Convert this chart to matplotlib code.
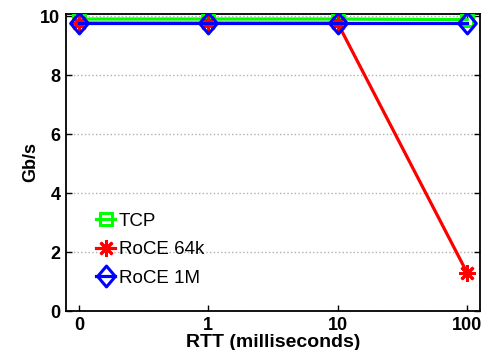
import matplotlib
matplotlib.use("Agg")
import matplotlib.pyplot as plt
from matplotlib.path import Path

rtt_labels = ["0", "1", "10", "100"]
tcp = [9.9, 9.9, 9.9, 9.88]
roce_64k = [9.76, 9.76, 9.76, 1.3]
roce_1m = [9.75, 9.75, 9.75, 9.75]
y_ticks = [0, 2, 4, 6, 8, 10]

plt.rcParams['font.family'] = ['Liberation Sans', 'DejaVu Sans']

fig = plt.figure(figsize=(4.89, 3.5), dpi=100)
ax = fig.add_axes([66/489, 1-311/350, (480-66)/489, (311-14)/350])

diamond = Path([(0, 1), (0.85, 0), (0, -1), (-0.85, 0), (0, 1)],
               [Path.MOVETO, Path.LINETO, Path.LINETO, Path.LINETO, Path.CLOSEPOLY])

x = list(range(1, len(rtt_labels)+1))
ax.plot(x, tcp, color='#00ff00', lw=2.3, marker='s', ms=8.5, mfc='none', mew=2.2, label='TCP', zorder=3)
ax.plot(x, roce_64k, color='#ff0000', lw=2.3, marker=(8, 2, 0), ms=12, mew=2.0, label='RoCE 64k', zorder=4)
ax.plot(x, roce_1m, color='#0000ff', lw=2.3, marker=diamond, ms=15, mfc='none', mew=2.2, label='RoCE 1M', zorder=5)

ax.set_xlim(0.9, 4.1)
ax.set_ylim(0, 10.07)
ax.set_xticks(x)
ax.set_xticklabels(rtt_labels, fontsize=13, fontweight='bold')
ax.set_yticks(y_ticks)
ax.set_yticklabels([str(v) for v in y_ticks], fontsize=13, fontweight='bold')
ax.tick_params(direction='in', top=True, right=True, length=4, width=1, pad=4)
ax.yaxis.grid(True, linestyle=':', color='#b0b0b0', lw=1)
ax.set_axisbelow(True)
for s in ax.spines.values():
    s.set_linewidth(1.3)

ax.set_xlabel('RTT (milliseconds)', fontsize=14, fontweight='bold', labelpad=0)
ax.set_ylabel('Gb/s', fontsize=13, fontweight='bold', labelpad=1)

ax.legend(loc='lower left', bbox_to_anchor=(0.055, 0.057), frameon=False, fontsize=13.5,
          handlelength=1.0, handletextpad=0.2, labelspacing=0.6, borderaxespad=0.0)

fig.savefig('out.png', dpi=100)
